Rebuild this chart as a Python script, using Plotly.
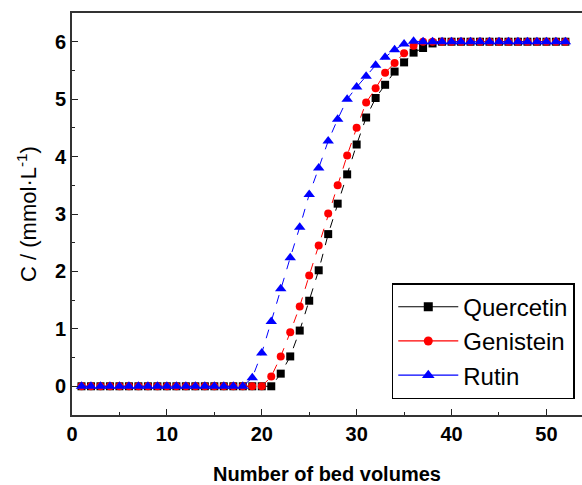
import plotly.graph_objects as go

bed_volumes = list(range(1, 53))

quercetin = [0.0] * 21 + [0.22, 0.52, 0.97, 1.49, 2.02, 2.65, 3.18, 3.69, 4.21, 4.68,
                          5.02, 5.25, 5.48, 5.64, 5.81, 5.89, 5.97] + [6.0] * 14
genistein = [0.0] * 20 + [0.17, 0.52, 0.94, 1.39, 1.93, 2.45, 3.01, 3.50, 4.02, 4.50,
                          4.94, 5.19, 5.46, 5.63, 5.80, 5.93] + [6.0] * 16
rutin = [0.0] * 18 + [0.15, 0.58, 1.13, 1.70, 2.24, 2.77, 3.34, 3.80, 4.27, 4.65,
                      5.00, 5.21, 5.40, 5.59, 5.73, 5.86, 5.96, 6.01] + [6.0] * 16

series = [
    ("Quercetin", quercetin, "#000000", "square", 8),
    ("Genistein", genistein, "#FF0000", "circle", 8),
    ("Rutin", rutin, "#0000FF", "triangle-up", 10),
]

fig = go.Figure()
for name, vals, color, sym, size in series:
    fig.add_trace(go.Scatter(
        x=bed_volumes, y=vals, name=name, mode="lines+markers",
        line=dict(color=color, width=1, dash="dash"),
        marker=dict(color=color, symbol=sym, size=size),
        showlegend=False,
    ))
# legend entries (solid line samples, as in the reference legend)
for name, vals, color, sym, size in series:
    fig.add_trace(go.Scatter(
        x=[None], y=[None], name=name, mode="lines+markers",
        line=dict(color=color, width=1.2),
        marker=dict(color=color, symbol=sym, size=size + 1),
        showlegend=True,
    ))

font_family = "Liberation Sans, Arial, sans-serif"

fig.update_layout(
    width=582, height=485,
    margin=dict(l=72, r=0, t=13, b=70),
    paper_bgcolor="white", plot_bgcolor="white",
    font=dict(family=font_family, color="black"),
    showlegend=True,
    legend=dict(
        x=0.627, y=0.328, xanchor="left", yanchor="top",
        bordercolor="black", borderwidth=1.5, bgcolor="white",
        font=dict(size=24, family=font_family, color="black"),
        itemwidth=60, tracegroupgap=0,
    ),
    xaxis=dict(
        range=[0, 53.75], tickvals=[0, 10, 20, 30, 40, 50],
        ticks="inside", ticklen=6, tickwidth=1.2, tickcolor="#222",
        minor=dict(tickvals=[5, 15, 25, 35, 45], ticks="inside", ticklen=3, tickcolor="#222"),
        showline=True, linecolor="#333", linewidth=2, mirror=True,
        showgrid=False, zeroline=False,
        tickfont=dict(size=20, family=font_family, weight="bold"),
        title=dict(text="<b>Number of bed volumes</b>", font=dict(size=20, family=font_family), standoff=24),
    ),
    yaxis=dict(
        range=[-0.5, 6.5], tickvals=[0, 1, 2, 3, 4, 5, 6],
        ticks="inside", ticklen=6, tickwidth=1.2, tickcolor="#222",
        minor=dict(tickvals=[-0.5, 0.5, 1.5, 2.5, 3.5, 4.5, 5.5], ticks="inside", ticklen=3, tickcolor="#222"),
        showline=True, linecolor="#333", linewidth=2, mirror=False,
        showgrid=False, zeroline=False,
        tickfont=dict(size=20, family=font_family, weight="bold"),
        title=dict(text="C / (mmol·L<sup>-1</sup>)", font=dict(size=22, family=font_family), standoff=12),
    ),
)

fig.write_html("out.html")
